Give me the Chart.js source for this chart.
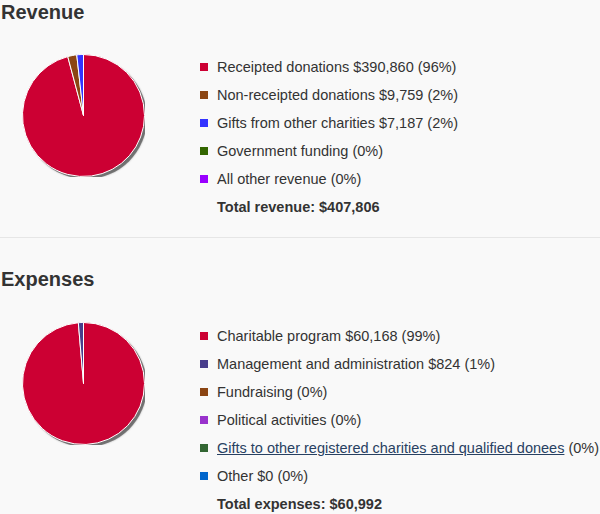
<!DOCTYPE html>
<html>
<head>
<meta charset="utf-8">
<script src="https://cdn.jsdelivr.net/npm/chart.js@4.4.1/dist/chart.umd.min.js"></script>
<style>
    body {
        margin: 0;
        background: #f9f9f9;
        font-family: "Liberation Sans", Arial, sans-serif;
        color: #333;
        width: 600px;
        height: 514px;
        overflow: hidden;
        position: relative;
    }
    h2 {
        position: absolute;
        left: 1px;
        margin: 0;
        font-size: 20px;
        font-weight: bold;
        line-height: 24px;
    }
    .pie {
        position: absolute;
        left: 22px;
        width: 123px;
        height: 123px;
    }
    ul.legend {
        position: absolute;
        left: 200px;
        margin: 0;
        padding: 0;
        list-style: none;
        font-size: 14.5px;
        line-height: 28px;
        white-space: nowrap;
    }
    ul.legend li { position: relative; padding-left: 17px; }
    ul.legend li .box {
        position: absolute;
        left: 0;
        top: 10px;
        width: 8px;
        height: 8px;
    }
    ul.legend li.total { font-weight: bold; }
    ul.legend a { color: #284162; text-decoration: underline; }
    hr {
        position: absolute;
        left: 0;
        top: 237px;
        width: 600px;
        margin: 0;
        border: 0;
        border-top: 1px solid #e6e6e6;
    }
</style>
</head>
<body>
<h2 style="top:0px">Revenue</h2>
<div class="pie" style="top:54px"><canvas id="revenueChart" width="123" height="123"></canvas></div>
<ul class="legend" id="revenueLegend" style="top:53px"></ul>
<hr>
<h2 style="top:267px">Expenses</h2>
<div class="pie" style="top:322px"><canvas id="expensesChart" width="123" height="123"></canvas></div>
<ul class="legend" id="expensesLegend" style="top:322px"></ul>

<script>
// Revenue data
const revenueLabels = ['Receipted donations', 'Non-receipted donations', 'Gifts from other charities', 'Government funding', 'All other revenue'];
const revenueValues = [390860, 9759, 7187, null, null];
const revenueColors = ['#cc0033', '#8b4513', '#3333ff', '#336600', '#9900ff'];

// Expenses data
const expenseLabels = ['Charitable program', 'Management and administration', 'Fundraising', 'Political activities', 'Gifts to other registered charities and qualified donees', 'Other'];
const expenseValues = [60168, 824, null, null, null, 0];
const expenseColors = ['#cc0033', '#483d8b', '#8b4513', '#9933cc', '#336633', '#0066cc'];
const expenseLinks = [false, false, false, false, true, false];

const fmt = n => '$' + n.toLocaleString('en-US');

// Gray drop shadow behind the pie
const pieShadow = {
    id: 'pieShadow',
    beforeDatasetsDraw(chart) {
        const arc = chart.getDatasetMeta(0).data[0];
        if (!arc) return;
        const ctx = chart.ctx;
        ctx.save();
        ctx.fillStyle = 'rgba(90, 90, 90, 0.75)';
        ctx.shadowColor = 'rgba(0, 0, 0, 0.4)';
        ctx.shadowBlur = 2;
        ctx.beginPath();
        ctx.arc(arc.x + 2.5, arc.y + 2.5, arc.outerRadius, 0, Math.PI * 2);
        ctx.fill();
        ctx.restore();
    }
};

function drawPie(canvasId, labels, values, colors) {
    const ctx = document.getElementById(canvasId).getContext('2d');
    return new Chart(ctx, {
        type: 'pie',
        data: {
            labels: labels,
            datasets: [{
                data: values.map(v => v || 0),
                backgroundColor: colors,
                borderColor: '#ffffff',
                borderWidth: 1,
                hoverOffset: 0
            }]
        },
        options: {
            responsive: false,
            animation: false,
            layout: { padding: 0 },
            plugins: {
                legend: { display: false },
                tooltip: { enabled: false }
            }
        },
        plugins: [pieShadow]
    });
}

function buildLegend(listId, labels, values, colors, links, totalLabel) {
    const list = document.getElementById(listId);
    const total = values.reduce((a, b) => a + (b || 0), 0);
    labels.forEach((label, i) => {
        const li = document.createElement('li');
        const pct = Math.round((values[i] || 0) / total * 100);
        const name = links && links[i] ? `<a href="#">${label}</a>` : label;
        const amount = values[i] === null ? '' : ` ${fmt(values[i])}`;
        li.innerHTML = `<span class="box" style="background:${colors[i]}"></span>${name}${amount} (${pct}%)`;
        list.appendChild(li);
    });
    const li = document.createElement('li');
    li.className = 'total';
    li.textContent = `${totalLabel}: ${fmt(total)}`;
    list.appendChild(li);
}

drawPie('revenueChart', revenueLabels, revenueValues, revenueColors);
drawPie('expensesChart', expenseLabels, expenseValues, expenseColors);
buildLegend('revenueLegend', revenueLabels, revenueValues, revenueColors, null, 'Total revenue');
buildLegend('expensesLegend', expenseLabels, expenseValues, expenseColors, expenseLinks, 'Total expenses');
</script>
</body>
</html>
